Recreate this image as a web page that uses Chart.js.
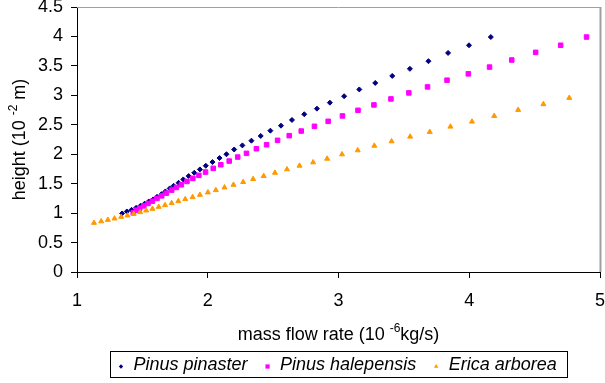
<!DOCTYPE html>
<html>
<head>
<meta charset="utf-8">
<script src="https://cdn.jsdelivr.net/npm/chart.js@4/dist/chart.umd.min.js"></script>
<style>
  html, body { margin: 0; background: #fff; }
</style>
</head>
<body>
<canvas id="chart" width="605" height="383"></canvas>
<script>
/* ---------- data ---------- */
const seriesNames = ['Pinus pinaster', 'Pinus halepensis', 'Erica arborea'];

const pinasterX = [1.345,1.381,1.417,1.452,1.485,1.516,1.549,1.582,1.612,1.646,1.676,1.709,1.739,1.777,1.813,1.854,1.897,1.940,1.985,2.036,2.090,2.143,2.202,2.265,2.334,2.405,2.479,2.560,2.644,2.738,2.835,2.934,3.043,3.159,3.281,3.411,3.546,3.688,3.838,3.998,4.165];
const pinasterY = [0.994,1.028,1.055,1.089,1.123,1.157,1.198,1.232,1.276,1.322,1.368,1.419,1.464,1.515,1.572,1.629,1.685,1.742,1.804,1.867,1.935,2.000,2.080,2.150,2.230,2.310,2.400,2.485,2.582,2.679,2.774,2.876,2.985,3.100,3.210,3.330,3.450,3.580,3.720,3.850,3.990];

const halepensisX = [1.430,1.455,1.480,1.511,1.543,1.577,1.612,1.648,1.684,1.724,1.760,1.798,1.841,1.886,1.932,1.983,2.042,2.100,2.164,2.229,2.296,2.372,2.450,2.534,2.623,2.715,2.816,2.921,3.030,3.149,3.271,3.401,3.538,3.681,3.830,3.993,4.155,4.325,4.508,4.699,4.897];
const halepensisY = [1.005,1.050,1.085,1.123,1.164,1.203,1.249,1.293,1.339,1.390,1.436,1.481,1.538,1.590,1.641,1.697,1.760,1.821,1.884,1.952,2.015,2.093,2.161,2.236,2.315,2.394,2.474,2.559,2.650,2.746,2.837,2.939,3.041,3.143,3.257,3.365,3.480,3.600,3.730,3.850,3.990];

const arboreaX = [1.130,1.185,1.236,1.287,1.338,1.386,1.434,1.483,1.529,1.577,1.625,1.673,1.724,1.775,1.828,1.884,1.940,2.001,2.062,2.128,2.197,2.271,2.347,2.428,2.514,2.606,2.702,2.806,2.913,3.027,3.147,3.274,3.406,3.548,3.698,3.856,4.021,4.191,4.374,4.567,4.765];
const arboreaY = [0.834,0.860,0.885,0.908,0.936,0.960,0.987,1.016,1.045,1.072,1.106,1.135,1.169,1.203,1.237,1.271,1.310,1.351,1.390,1.436,1.481,1.527,1.578,1.629,1.685,1.743,1.804,1.862,1.923,1.998,2.066,2.144,2.219,2.298,2.378,2.468,2.553,2.650,2.752,2.849,2.956];

const xTicks = [1, 2, 3, 4, 5];
const yTicks = [0, 0.5, 1, 1.5, 2, 2.5, 3, 3.5, 4, 4.5];

/* ---------- styles ---------- */
const FAMILY = '"Liberation Sans", Arial, sans-serif';
const TICK_FONT = { family: FAMILY, size: 18 };
const TITLE_FONT = '18px ' + FAMILY;
const SUP_FONT = '12px ' + FAMILY;
const LEGEND_FONT = 'italic 18px ' + FAMILY;

const pts = (xs, ys) => xs.map((x, i) => ({ x, y: ys[i] }));

const STYLES = [
  { color: '#000080', pointStyle: 'rectRot',  radius: 2.5, legendRadius: 2.2 },
  { color: '#ff00ff', pointStyle: 'rect',     radius: 3.2, legendRadius: 3.0 },
  { color: '#ff9900', pointStyle: 'triangle', radius: 2.9, legendRadius: 2.6 }
];
const SERIES = [pts(pinasterX, pinasterY), pts(halepensisX, halepensisY), pts(arboreaX, arboreaY)];

// 텍스트 + 위첨자
function supText(ctx, parts, x, y){
  let w = 0;
  parts.forEach(([t, sup]) => { ctx.font = sup ? SUP_FONT : TITLE_FONT; w += ctx.measureText(t).width; });
  let cx = x - w / 2;
  ctx.textAlign = 'left';
  ctx.textBaseline = 'middle';
  parts.forEach(([t, sup]) => {
    ctx.font = sup ? SUP_FONT : TITLE_FONT;
    ctx.fillText(t, cx, sup ? y - 6 : y);
    cx += ctx.measureText(t).width;
  });
}

/* ---------- frame, axis titles, boxed legend ---------- */
const decor = {
  id: 'decor',
  afterDraw(chart){
    const { ctx, chartArea: a } = chart;
    ctx.save();
    ctx.strokeStyle = '#a0a0a0';
    ctx.lineWidth = 1;
    ctx.beginPath(); ctx.moveTo(a.left, a.top + 0.5); ctx.lineTo(a.right, a.top + 0.5); ctx.stroke();
    ctx.lineWidth = 2;
    ctx.beginPath(); ctx.moveTo(a.right + 0.5, a.top); ctx.lineTo(a.right + 0.5, a.bottom); ctx.stroke();

    ctx.fillStyle = '#000';
    const midX = (a.left + a.right) / 2;
    supText(ctx, [['mass flow rate (10 ', false], ['-6', true], ['kg/s)', false]], midX, 335);

    ctx.save();
    ctx.translate(20, (a.top + a.bottom) / 2);
    ctx.rotate(-Math.PI / 2);
    supText(ctx, [['height (10 ', false], ['-2', true], [' m)', false]], 0, 0);
    ctx.restore();

    // legend
    ctx.font = LEGEND_FONT;
    const widths = seriesNames.map(n => ctx.measureText(n).width);
    const markGap = 12.5, itemGap = 20, padL = 10.5, padR = 11;
    const total = padL + widths.reduce((s, w) => s + markGap + w, 0) + itemGap * (widths.length - 1) + padR;
    const bx = Math.round(midX - total / 2) + 0.5, by = 351.5, bh = 26;
    ctx.strokeStyle = '#000';
    ctx.lineWidth = 1;
    ctx.strokeRect(bx, by, Math.round(total), bh);
    let cx = bx + padL;
    const cy = by + bh / 2;
    seriesNames.forEach((n, i) => {
      const st = STYLES[i];
      ctx.fillStyle = st.color;
      ctx.strokeStyle = st.color;
      Chart.helpers.drawPoint(ctx, { pointStyle: st.pointStyle, radius: st.legendRadius, rotation: 0, borderWidth: 0 }, cx, cy + 2);
      ctx.fillStyle = '#000';
      ctx.font = LEGEND_FONT;
      ctx.textAlign = 'left';
      ctx.textBaseline = 'middle';
      ctx.fillText(n, cx + markGap, cy);
      cx += markGap + widths[i] + itemGap;
    });
    ctx.restore();
  }
};

new Chart(document.getElementById('chart'), {
  type: 'scatter',
  data: {
    datasets: SERIES.map((data, i) => ({
      label: seriesNames[i],
      data,
      showLine: false,
      order: 3 - i,
      pointStyle: STYLES[i].pointStyle,
      pointRadius: STYLES[i].radius,
      pointBackgroundColor: STYLES[i].color,
      pointBorderColor: STYLES[i].color,
      pointBorderWidth: 1
    }))
  },
  options: {
    responsive: false,
    devicePixelRatio: 1,
    animation: false,
    layout: { padding: { top: 7, right: 3, left: 0, bottom: 0 } },
    plugins: { legend: { display: false }, tooltip: { enabled: false } },
    scales: {
      x: {
        type: 'linear', min: 1, max: 5,
        afterBuildTicks: s => { s.ticks = xTicks.map(v => ({ value: v })); },
        afterFit: s => { s.height = 111; s.paddingLeft = 0; s.paddingRight = 0; },
        grid: { drawOnChartArea: false, tickLength: 6, tickColor: '#000' },
        border: { color: '#000', width: 1 },
        ticks: { font: TICK_FONT, color: '#000', padding: 12, maxRotation: 0, callback: v => String(v) }
      },
      y: {
        type: 'linear', min: 0, max: 4.5,
        afterBuildTicks: s => { s.ticks = yTicks.map(v => ({ value: v })); },
        afterFit: s => { s.width = 77; s.paddingTop = 0; s.paddingBottom = 0; },
        grid: { drawOnChartArea: false, tickLength: 6, tickColor: '#000' },
        border: { color: '#000', width: 1 },
        ticks: { font: TICK_FONT, color: '#000', padding: 8, callback: v => String(v) }
      }
    }
  },
  plugins: [decor]
});
</script>
</body>
</html>
